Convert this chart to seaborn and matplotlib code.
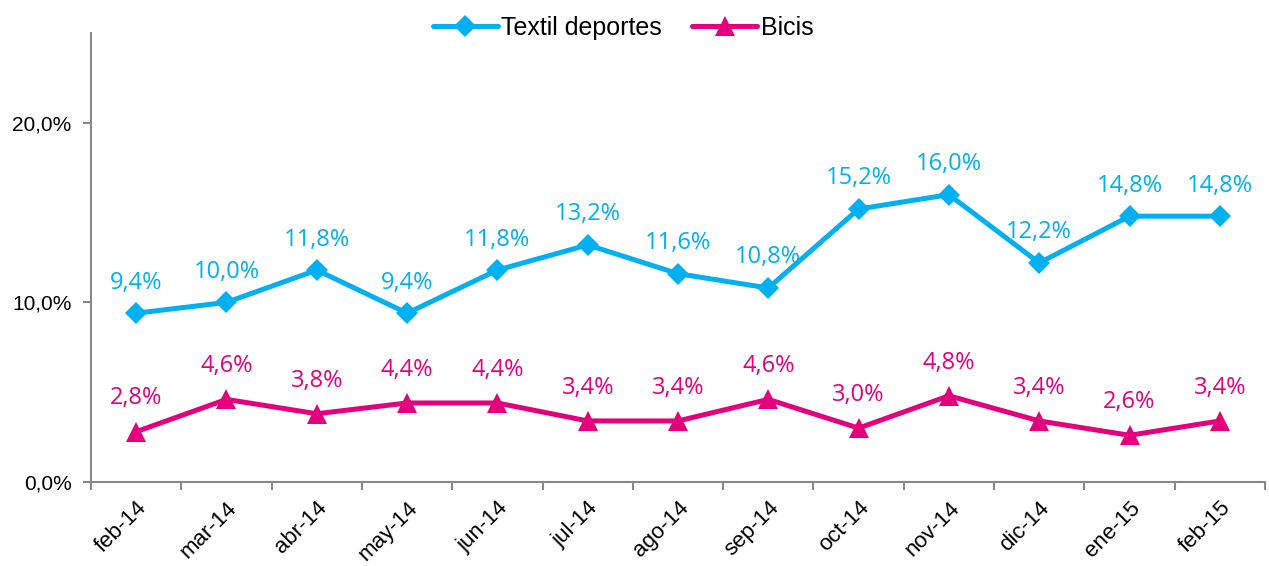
import numpy as np
import pandas as pd
import matplotlib.pyplot as plt
import seaborn as sns
from matplotlib.ticker import FuncFormatter

months = ['feb-14', 'mar-14', 'abr-14', 'may-14', 'jun-14', 'jul-14', 'ago-14',
          'sep-14', 'oct-14', 'nov-14', 'dic-14', 'ene-15', 'feb-15']
textil = [9.4, 10.0, 11.8, 9.4, 11.8, 13.2, 11.6, 10.8, 15.2, 16.0, 12.2, 14.8, 14.8]
bicis = [2.8, 4.6, 3.8, 4.4, 4.4, 3.4, 3.4, 4.6, 3.0, 4.8, 3.4, 2.6, 3.4]

sns.set_style("white")
plt.rcParams['font.family'] = ['Liberation Sans', 'DejaVu Sans']
plt.rcParams['text.color'] = 'black'

cyan = '#00B0F0'
magenta = '#E4007C'

df = pd.DataFrame({'mes': months, 'Textil deportes': textil, 'Bicis': bicis})
long = df.melt(id_vars='mes', var_name='serie', value_name='valor')
long['x'] = long['mes'].map({m: i for i, m in enumerate(months)})

fig = plt.figure(figsize=(12.69, 5.66), dpi=100)
ax = fig.add_axes([91 / 1269, 1 - 482 / 566, (1265 - 91) / 1269, (482 - 33) / 566])

sns.lineplot(data=long, x='x', y='valor', hue='serie', style='serie',
             palette={'Textil deportes': cyan, 'Bicis': magenta},
             markers={'Textil deportes': 'D', 'Bicis': '^'}, dashes=False,
             markersize=11, linewidth=3.6, markeredgewidth=0, ax=ax, legend=False)
# bigger triangles
for line in ax.get_lines():
    if line.get_marker() == '^':
        line.set_markersize(14)

lab_font = ['Open Sans', 'DejaVu Sans']
for i in range(len(months)):
    ax.text(i, textil[i] + 1.7, f"{textil[i]:.1f}%".replace('.', ','), color=cyan,
            ha='center', va='center', fontsize=17, family=lab_font)
    ax.text(i, bicis[i] + 1.85, f"{bicis[i]:.1f}%".replace('.', ','), color=magenta,
            ha='center', va='center', fontsize=17, family=lab_font)

ax.set_xlim(-0.5, len(months) - 0.5)
ax.set_ylim(0, 25)
ax.set_yticks([0, 10, 20])
ax.yaxis.set_major_formatter(FuncFormatter(lambda v, p: f"{v:.1f}%".replace('.', ',')))
ax.set_xticks(np.arange(len(months)))
ax.set_xticklabels(months, rotation=45, ha='right', rotation_mode='anchor', fontsize=16, color='black')
ax.set_xticks(np.arange(len(months) + 1) - 0.5, minor=True)
ax.tick_params(axis='x', which='major', bottom=True, length=0, pad=11)
ax.tick_params(axis='x', which='minor', bottom=True, length=6, width=1.5, color='#888888', direction='out')
ax.tick_params(axis='y', left=True, length=6, width=1.5, color='#888888', direction='out',
               labelsize=15, labelcolor='black', pad=8)
ax.set_xlabel('')
ax.set_ylabel('')

for s in ['top', 'right']:
    ax.spines[s].set_visible(False)
for s in ['left', 'bottom']:
    ax.spines[s].set_color('#888888')
    ax.spines[s].set_linewidth(1.5)

handles = [plt.Line2D([], [], color=cyan, marker='D', markersize=11, lw=3.6, markeredgewidth=0),
           plt.Line2D([], [], color=magenta, marker='^', markersize=14, lw=3.6, markeredgewidth=0)]
fig.legend(handles, ['Textil deportes', 'Bicis'], loc='center', bbox_to_anchor=(623 / 1269, 1 - 28 / 566),
           ncol=2, frameon=False, fontsize=18, handlelength=2.6, handletextpad=0.15, columnspacing=1.2,
           labelcolor='black')

fig.savefig('out.png', dpi=100)
